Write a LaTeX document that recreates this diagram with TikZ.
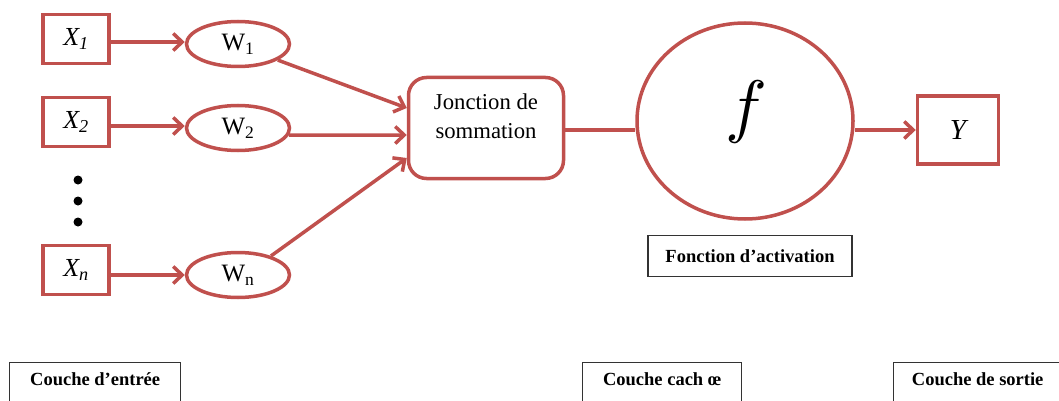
\documentclass[tikz,border=0pt]{standalone}
\usepackage{fontspec}
\setmainfont{Liberation Serif}
\usetikzlibrary{shapes.geometric,arrows.meta}
\definecolor{linered}{HTML}{C0504D}

\begin{document}
\begin{tikzpicture}[x=1pt, y=-1pt,
    inbox/.style={draw=linered, line width=3.5pt, minimum width=66pt, minimum height=49pt, inner sep=0pt,
        font=\fontsize{26}{26}\selectfont},
    weight/.style={draw=linered, line width=3.5pt, ellipse, minimum width=103pt, minimum height=45pt, inner sep=0pt,
        font=\fontsize{25}{25}\selectfont},
    dotnode/.style={circle, fill=black, minimum size=9pt, inner sep=0pt},
    layerbox/.style={draw=black!80, line width=1.3pt, anchor=north west, text height=13pt, text depth=40pt,
        inner ysep=10pt, font=\fontsize{18.5}{18.5}\selectfont\bfseries},
    conn/.style={draw=linered, line width=3.5pt, ->, >={Straight Barb[length=9pt,width=17pt]}}]

    \useasboundingbox (0,0) rectangle (1059,401);
    \clip (0,0) rectangle (1059,401);

    \node[inbox] (x1) at (76,39) {\itshape X\textsubscript{1}};
    \node[inbox] (x2) at (76,122) {\itshape X\textsubscript{2}};
    \node[inbox] (xn) at (76,270) {\itshape X\textsubscript{n}};

    \node[dotnode] (dot1) at (78,180) {};
    \node[dotnode] (dot2) at (78,201) {};
    \node[dotnode] (dot3) at (78,222) {};

    \node[weight] (w1) at (238,44) {W\textsubscript{1}};
    \node[weight] (w2) at (238,128) {W\textsubscript{2}};
    \node[weight] (wn) at (238,275) {W\textsubscript{n}};

    \node[draw=linered, line width=3.5pt, rounded corners=18pt, minimum width=155pt, minimum height=101pt,
        inner sep=0pt, font=\fontsize{22.7}{28}\selectfont] (sum) at (486,128)
        {\raisebox{-10pt}[0pt][0pt]{\begin{tabular}[b]{@{}c@{}}Jonction de\\sommation\end{tabular}}};

    \node[draw=linered, line width=3.5pt, ellipse, minimum width=216pt, minimum height=196pt] (act) at (745,121) {};
    \node (fsym) at (746,112) {\scalebox{7}{$f$}};

    \node[inbox, minimum width=81pt, minimum height=68pt, font=\fontsize{29}{29}\selectfont] (yout) at (958,130) {\itshape Y};

    \node[draw=black!80, line width=1.3pt, minimum width=204pt, minimum height=41pt,
        font=\fontsize{18.5}{18.5}\selectfont\bfseries] (actlabel) at (750,256) {Fonction d’activation};

    \node[layerbox, minimum width=171pt] (inlayer) at (9,362) {Couche d’entrée};
    \node[layerbox, minimum width=159pt] (hidlayer) at (582,362) {Couche cach œ};
    \node[layerbox, minimum width=168pt] (outlayer) at (893,362) {Couche de sortie};

    \draw[conn] ([yshift=-3pt]x1.east) -- ([yshift=-3pt]x1.east -| w1.west);
    \draw[conn] ([yshift=-4pt]x2.east) -- ([yshift=-4pt]x2.east -| w2.west);
    \draw[conn] ([yshift=-5pt]xn.east) -- ([yshift=-5pt]xn.east -| wn.west);

    \draw[conn] (w1.-22) -- ([yshift=20pt]sum.west);
    \draw[conn] (w2.-8) -- ([yshift=-7pt]sum.west);
    \draw[conn] (wn.30) -- ([yshift=-30pt]sum.west);

    \draw[draw=linered, line width=3.5pt] ([yshift=-2pt]sum.east) -- ([yshift=-2pt]sum.east -| act.west);
    \draw[conn] (act.east |- yout.west) -- (yout.west);

\end{tikzpicture}
\end{document}
